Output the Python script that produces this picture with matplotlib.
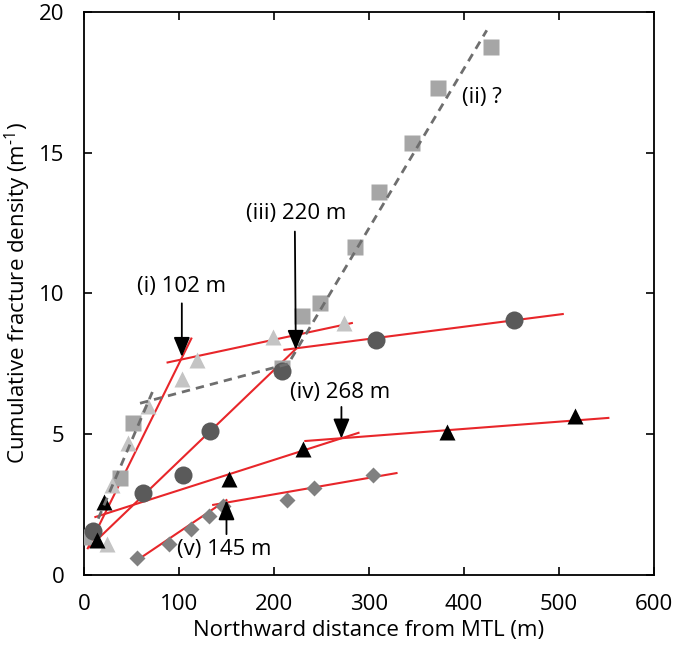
import matplotlib
matplotlib.use("Agg")
import matplotlib.pyplot as plt

plt.rcParams['font.family'] = ['Open Sans', 'DejaVu Sans']
plt.rcParams['mathtext.fontset'] = 'custom'
plt.rcParams['mathtext.rm'] = 'Open Sans'

# (ii) light grey squares
sq_x = [0, 38, 52, 208, 229, 248, 285, 311, 345, 373, 428]
sq_y = [1.35, 3.45, 5.4, 7.35, 9.2, 9.65, 11.65, 13.6, 15.35, 17.3, 18.75]
# (i) light grey triangles
lt_x = [24, 29, 46, 67, 103, 119, 199, 274]
lt_y = [1.1, 3.2, 4.7, 6.0, 6.95, 7.65, 8.45, 8.95]
# (iii) dark grey circles
ci_x = [10, 62, 104, 133, 208, 307, 453]
ci_y = [1.55, 2.9, 3.55, 5.1, 7.25, 8.35, 9.05]
# (iv) black triangles
bt_x = [14, 21, 153, 231, 382, 517]
bt_y = [1.25, 2.6, 3.42, 4.48, 5.07, 5.65]
# (v) grey diamonds
di_x = [56, 89, 113, 132, 146, 214, 242, 304]
di_y = [0.6, 1.1, 1.65, 2.1, 2.45, 2.65, 3.1, 3.55]

# fitted red segments (x0, x1, y0, y1)
red_fits = [
    (4, 113, 0.95, 8.4), (88, 282, 7.55, 8.95),
    (6, 224, 1.0, 8.06), (211, 504, 8.0, 9.27),
    (12, 289, 2.06, 5.05), (233, 552, 4.76, 5.58),
    (61, 150, 0.64, 2.66), (136, 329, 2.49, 3.62),
]
# dashed grey trend for (ii)
dash_fits = [
    ([15, 72], [2.0, 6.5]),
    ([59, 215, 424], [6.1, 7.5, 19.35]),
]

fig = plt.figure(figsize=(6.85, 6.56), dpi=100)
ax = fig.add_axes([0.1226, 0.1235, 0.8321, 0.8582])

for x0, x1, y0, y1 in red_fits:
    ax.plot([x0, x1], [y0, y1], color='#e8262a', lw=1.5, zorder=2)
for xs, ys in dash_fits:
    ax.plot(xs, ys, color='#6e6e6e', lw=2, ls=(0, (3, 2.2)), zorder=4)

ax.plot(sq_x, sq_y, 's', color='#a6a6a6', ms=12, mec='none', zorder=3)
ax.plot(lt_x, lt_y, '^', color='#c4c4c4', ms=12, mec='none', zorder=3)
ax.plot(ci_x, ci_y, 'o', color='#5a5a5a', ms=13, mec='none', zorder=3)
ax.plot(bt_x, bt_y, '^', color='black', ms=11, mec='none', zorder=3)
ax.plot(di_x, di_y, 'D', color='#808080', ms=8, mec='none', zorder=3)

arrow = dict(arrowstyle='-|>,head_length=0.6,head_width=0.25', color='black',
             lw=1.3, mutation_scale=20, shrinkA=0, shrinkB=0)
fs = 16
ax.annotate('', xy=(103, 7.75), xytext=(103, 9.65), arrowprops=arrow, zorder=5)
ax.text(103, 10.25, '(i) 102 m', fontsize=fs, ha='center', va='center')
ax.annotate('', xy=(223, 8.0), xytext=(222, 12.2), arrowprops=arrow, zorder=5)
ax.text(223, 12.85, '(iii) 220 m', fontsize=fs, ha='center', va='center')
ax.annotate('', xy=(271, 4.85), xytext=(271, 5.97), arrowprops=arrow, zorder=5)
ax.text(270, 6.5, '(iv) 268 m', fontsize=fs, ha='center', va='center')
ax.annotate('', xy=(150, 2.65), xytext=(150, 1.45), arrowprops=arrow, zorder=5)
ax.text(148, 0.9, '(v) 145 m', fontsize=fs, ha='center', va='center')
ax.text(398, 16.95, '(ii) ?', fontsize=fs, ha='left', va='center')

ax.set_xlim(0, 600)
ax.set_ylim(0, 20)
ax.set_xticks([0, 100, 200, 300, 400, 500, 600])
ax.set_yticks([0, 5, 10, 15, 20])
ax.tick_params(direction='in', length=6, width=1.2, top=True, right=True,
               labelsize=fs)
ax.tick_params(axis='x', pad=14)
ax.tick_params(axis='y', pad=14)
for s in ax.spines.values():
    s.set_linewidth(1.3)
ax.set_xlabel('Northward distance from MTL (m)', fontsize=fs, labelpad=3)
ax.set_ylabel(r'Cumulative fracture density (m$^{\mathregular{\text{-}1}}$)',
              fontsize=fs, labelpad=4)

fig.savefig('out.png', dpi=100)
